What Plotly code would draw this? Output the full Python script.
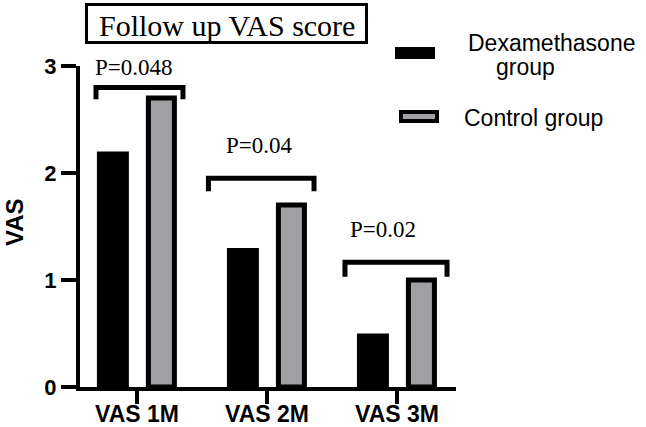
import plotly.graph_objects as go

# ---------------- data ----------------
categories = ["VAS 1M", "VAS 2M", "VAS 3M"]
dexamethasone = [2.2, 1.3, 0.5]
control = [2.7, 1.7, 1.0]
y_tick_vals = [0, 1, 2, 3]
p_labels = ["P=0.048", "P=0.04", "P=0.02"]

# significance brackets (relative to category centre / in y units)
bracket_left = [-0.315, -0.45, -0.40]
bracket_right = [0.354, 0.362, 0.385]
bracket_top = [2.80, 1.95, 1.165]
bracket_leg_end = [2.69, 1.83, 1.03]
p_label_dx = [-0.02, -0.054, -0.108]
p_label_y = [2.99, 2.26, 1.47]

# ---------------- layout geometry ----------------
W, H = 646, 427
ML, MR, MT, MB = 80, 190, 66, 40
PW, PH = W - ML - MR, H - MT - MB


def px(x):
    return (x - ML) / PW


def py(y):
    return (H - MB - y) / PH


xpos = list(range(len(categories)))
SANS = "Liberation Sans, Arial, sans-serif"
SERIF = "Liberation Serif, Times New Roman, serif"
GRAY = "#a09fa4"

fig = go.Figure()
fig.add_trace(go.Bar(
    x=xpos, y=dexamethasone, name="Dexamethasone group",
    marker=dict(color="black", line=dict(width=0)),
    width=0.246, offset=-0.308,
))
fig.add_trace(go.Bar(
    x=xpos, y=control, name="Control group",
    marker=dict(color=GRAY, line=dict(color="black", width=5)),
    width=0.2, offset=0.088,
))

shapes = []
annotations = []
for i in range(len(categories)):
    x0 = xpos[i] + bracket_left[i]
    x1 = xpos[i] + bracket_right[i]
    yt, yb = bracket_top[i], bracket_leg_end[i]
    shapes.append(dict(
        type="path", xref="x", yref="y",
        path=f"M {x0},{yb} L {x0},{yt} L {x1},{yt} L {x1},{yb}",
        line=dict(color="black", width=5),
    ))
    annotations.append(dict(
        x=xpos[i] + p_label_dx[i], y=p_label_y[i], xref="x", yref="y",
        text=p_labels[i], showarrow=False, xanchor="center", yanchor="middle",
        font=dict(family=SERIF, size=23, color="black"),
    ))
    # category label
    annotations.append(dict(
        x=xpos[i], y=py(413.5), xref="x", yref="paper",
        text=f"<b>{categories[i]}</b>", showarrow=False,
        xanchor="center", yanchor="middle",
        font=dict(family=SANS, size=23, color="black"),
    ))

# title box
shapes.append(dict(type="rect", xref="paper", yref="paper",
                   x0=px(86.5), x1=px(366.5), y0=py(4.5), y1=py(42.5),
                   line=dict(color="black", width=3)))
annotations.append(dict(x=px(226.5), y=py(25), xref="paper", yref="paper",
                        text="Follow up VAS score", showarrow=False,
                        xanchor="center", yanchor="middle",
                        font=dict(family=SERIF, size=30, color="black")))

# legend
shapes.append(dict(type="rect", xref="paper", yref="paper",
                   x0=px(395), x1=px(435), y0=py(47), y1=py(59),
                   fillcolor="black", line=dict(width=0)))
shapes.append(dict(type="rect", xref="paper", yref="paper",
                   x0=px(401), x1=px(437), y0=py(112), y1=py(121),
                   fillcolor=GRAY, line=dict(color="black", width=4)))
annotations.append(dict(x=px(552), y=py(43), xref="paper", yref="paper",
                        text="Dexamethasone", showarrow=False,
                        xanchor="center", yanchor="middle",
                        font=dict(family=SANS, size=23, color="black")))
annotations.append(dict(x=px(525), y=py(67), xref="paper", yref="paper",
                        text="group", showarrow=False,
                        xanchor="center", yanchor="middle",
                        font=dict(family=SANS, size=23, color="black")))
annotations.append(dict(x=px(462), y=py(118), xref="paper", yref="paper",
                        text="Control group", showarrow=False,
                        xanchor="left", yanchor="middle",
                        font=dict(family=SANS, size=23, color="black")))

# y-axis title
annotations.append(dict(x=px(14), y=py(222), xref="paper", yref="paper",
                        text="<b>VAS</b>", showarrow=False, textangle=-90,
                        xanchor="center", yanchor="middle",
                        font=dict(family=SANS, size=24, color="black")))

fig.update_layout(
    width=W, height=H,
    margin=dict(l=ML, r=MR, t=MT, b=MB, pad=0, autoexpand=False),
    paper_bgcolor="white", plot_bgcolor="white",
    barmode="overlay", showlegend=False,
    shapes=shapes, annotations=annotations,
    xaxis=dict(
        range=[-0.438, 2.454], tickmode="array", tickvals=xpos,
        showticklabels=False,
        showline=True, linecolor="black", linewidth=4,
        ticks="outside", ticklen=13, tickwidth=4, tickcolor="black",
        showgrid=False, zeroline=False, automargin=False,
    ),
    yaxis=dict(
        range=[0, 3], tickmode="array", tickvals=y_tick_vals,
        ticktext=[f"<b>{v}</b>" for v in y_tick_vals],
        showline=True, linecolor="black", linewidth=4,
        ticks="outside", ticklen=15, tickwidth=4, tickcolor="black",
        showgrid=False, zeroline=False, automargin=False,
        tickfont=dict(family=SANS, size=22, color="black"),
    ),
)

fig.write_html("out.html")
